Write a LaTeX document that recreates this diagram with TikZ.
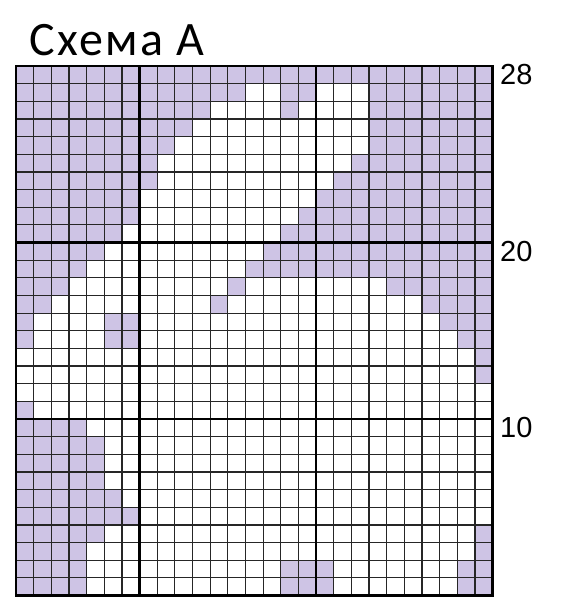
\documentclass[tikz,border=0pt]{standalone}
\usepackage{fontspec}
\setmainfont{Carlito}
\newfontfamily\titlefont[LetterSpace=5]{Carlito}
\newfontfamily\numfont{Liberation Sans}
\usetikzlibrary{positioning}
\definecolor{chartlilac}{RGB}{206,196,229}

\begin{document}
\begin{tikzpicture}[x=17.65pt, y=-17.65pt,
  gridline/.style={line width=1.2pt, black!85},
  majorline/.style={line width=2.2pt, black},
  frameline/.style={line width=2.8pt, black},
  rowlabel/.style={anchor=west, inner sep=0pt, font=\numfont\fontsize{29}{29}\selectfont}]
\useasboundingbox (-0.9065,-3.7394) rectangle (31.2748,30.8215);

% coloured stitches: row / first column / last column
\foreach \r/\a/\b in {0/0/26,
    1/0/12, 1/15/16, 1/20/26,
    2/0/10, 2/15/15, 2/20/26,
    3/0/9, 3/20/26,
    4/0/8, 4/20/26,
    5/0/7, 5/19/26,
    6/0/7, 6/18/26,
    7/0/6, 7/17/26,
    8/0/6, 8/16/26,
    9/0/5, 9/15/26,
    10/0/4, 10/14/26,
    11/0/3, 11/13/26,
    12/0/2, 12/12/12, 12/21/26,
    13/0/1, 13/11/11, 13/23/26,
    14/0/0, 14/5/6, 14/24/26,
    15/0/0, 15/5/6, 15/25/26,
    16/26/26, 17/26/26,
    19/0/0,
    20/0/3, 21/0/4, 22/0/4, 23/0/4, 24/0/5, 25/0/6,
    26/0/4, 26/26/26,
    27/0/3, 27/26/26,
    28/0/3, 28/15/17, 28/25/26,
    29/0/3, 29/15/17, 29/25/26}
  \fill[chartlilac] (\a,\r) rectangle (\b+1,\r+1);

% stitch grid
\foreach \i in {1,...,26} \draw[gridline] (\i,0) -- (\i,30);
\foreach \j in {1,...,29} \draw[gridline] (0,\j) -- (27,\j);
\draw[majorline] (7,0) -- (7,30) (17,0) -- (17,30) (0,10) -- (27,10) (0,20) -- (27,20);
\draw[frameline] (0,0) rectangle (27,30);

\node[anchor=base west, inner sep=0pt, font=\titlefont\fontsize{48}{48}\selectfont] (title) at (0.74,-0.62) {Схема А};
\node[rowlabel] (r28) at (27.42,0.5) {28};
\node[rowlabel] (r20) at (27.42,10.5) {20};
\node[rowlabel] (r10) at (27.42,20.5) {10};
\end{tikzpicture}
\end{document}
